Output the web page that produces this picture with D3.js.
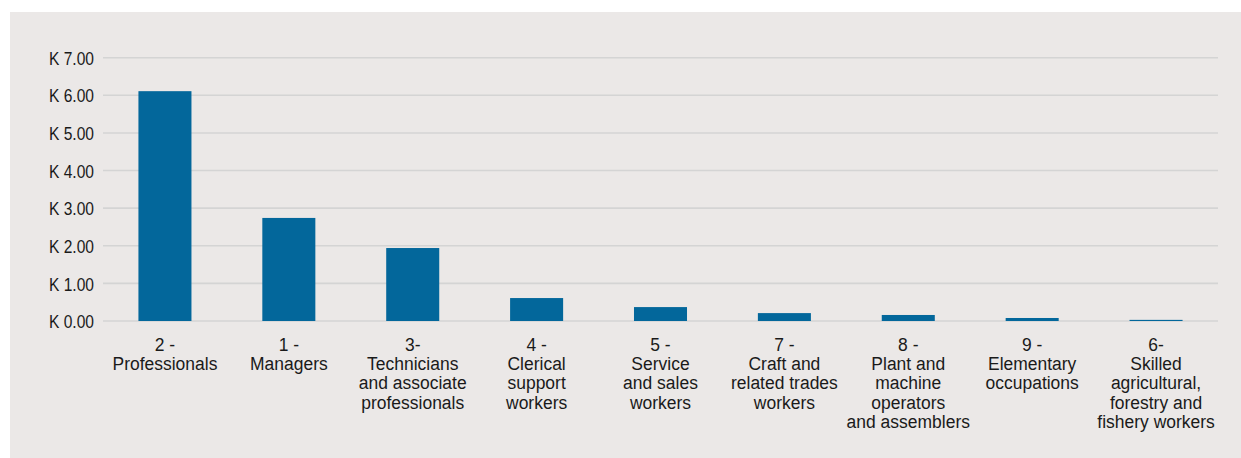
<!DOCTYPE html>
<html>
<head>
<meta charset="utf-8">
<script src="https://cdn.jsdelivr.net/npm/d3@7"></script>
<style>
  html, body { margin: 0; padding: 0; background: #ffffff; }
  svg { display: block; }
  text { font-family: "Liberation Sans", Arial, sans-serif; fill: #1a1a1a; }
</style>
</head>
<body>
<svg id="chart" width="1241" height="458"></svg>
<script>
const categories = [
  "2 - Professionals",
  "1 - Managers",
  "3- Technicians and associate professionals",
  "4 - Clerical support workers",
  "5 - Service and sales workers",
  "7 - Craft and related trades workers",
  "8 - Plant and machine operators and assemblers",
  "9 - Elementary occupations",
  "6- Skilled agricultural, forestry and fishery workers"
];
const categoryLines = [
  ["2 -", "Professionals"],
  ["1 -", "Managers"],
  ["3-", "Technicians", "and associate", "professionals"],
  ["4 -", "Clerical", "support", "workers"],
  ["5 -", "Service", "and sales", "workers"],
  ["7 -", "Craft and", "related trades", "workers"],
  ["8 -", "Plant and", "machine", "operators", "and assemblers"],
  ["9 -", "Elementary", "occupations"],
  ["6-", "Skilled", "agricultural,", "forestry and", "fishery workers"]
];
const values = [6.11, 2.74, 1.94, 0.61, 0.37, 0.21, 0.16, 0.08, 0.03];
const yTicks = [0, 1, 2, 3, 4, 5, 6, 7];

const svg = d3.select("#chart");
svg.append("rect").attr("x", 10).attr("y", 12).attr("width", 1231).attr("height", 446).attr("fill", "#ebe8e7");

const x = d3.scaleBand().domain(categories).range([103, 1218]).paddingInner(0.572).paddingOuter(0.286);
const y = d3.scaleLinear().domain([0, 7]).range([321, 57.7]);

// gridlines
svg.append("g").selectAll("line").data(yTicks).join("line")
  .attr("x1", 103).attr("x2", 1218)
  .attr("y1", d => y(d)).attr("y2", d => y(d))
  .attr("stroke", "#d4d4d4").attr("stroke-width", 1.6);

// y axis labels (condensed look via horizontal scale)
const yAxis = d3.axisLeft(y).tickValues(yTicks).tickSize(0).tickPadding(0)
  .tickFormat(d => "K " + d.toFixed(2));
const yg = svg.append("g").attr("transform", "translate(94,0)").call(yAxis);
yg.select(".domain").remove();
yg.selectAll(".tick text")
  .attr("font-size", 19).attr("font-family", null).attr("fill", "#1a1a1a")
  .attr("x", 0).attr("dy", "0.35em")
  .attr("transform", "scale(0.82,1)");

// bars
svg.append("g").selectAll("rect").data(values).join("rect")
  .attr("x", (d, i) => x(categories[i]))
  .attr("width", x.bandwidth())
  .attr("y", d => y(d))
  .attr("height", d => y(0) - y(d))
  .attr("fill", "#03679b");

// x labels
const xl = svg.append("g").selectAll("text").data(categories).join("text")
  .attr("transform", d => `translate(${x(d) + x.bandwidth() / 2},351) scale(0.92,1)`)
  .attr("text-anchor", "middle")
  .attr("font-size", 19);
xl.each(function(d, i) {
  const t = d3.select(this);
  categoryLines[i].forEach((line, j) => {
    t.append("tspan").attr("x", 0).attr("dy", j === 0 ? 0 : 19.2).text(line);
  });
});
</script>
</body>
</html>
